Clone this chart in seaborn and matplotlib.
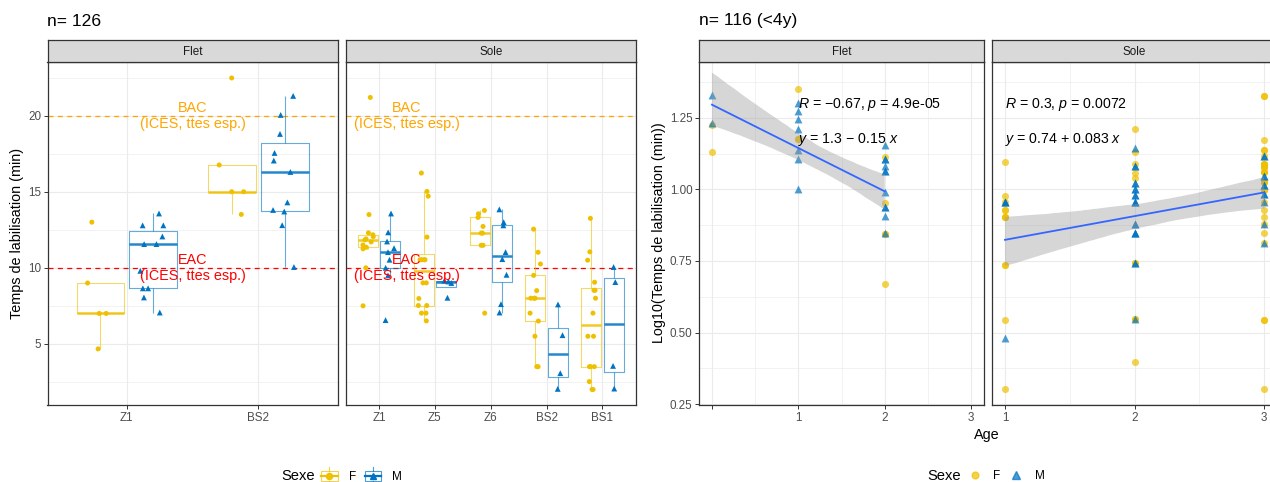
import numpy as np
import pandas as pd
import matplotlib
matplotlib.use("Agg")
import matplotlib.pyplot as plt
import seaborn as sns
from matplotlib.lines import Line2D
from matplotlib.patches import Rectangle
from matplotlib.legend_handler import HandlerBase
from matplotlib.ticker import FixedLocator, NullLocator

plt.rcParams["font.family"] = ["Liberation Sans", "DejaVu Sans"]
plt.rcParams["mathtext.fontset"] = "custom"
plt.rcParams["mathtext.rm"] = "Liberation Sans"
plt.rcParams["mathtext.it"] = "Liberation Sans:italic"

SEX_LEVELS = ["F", "M"]
SEX_COLORS = {"F": "#EFC000", "M": "#0073C2"}
SEX_MARKERS = {"F": "o", "M": "^"}

# ---------------- labilisation time (min) by species / site / sex ----------------
flet_sites = ["Z1", "BS2"]
sole_sites = ["Z1", "Z5", "Z6", "BS2", "BS1"]

flet_z1_f = [13.0, 9.0, 7.0, 7.0, 4.67]
flet_z1_m = [13.57, 12.79, 12.79, 12.06, 11.56, 11.56, 9.8, 8.65, 8.65, 8.05, 7.06]
flet_bs2_f = [22.48, 16.76, 15.0, 15.0, 13.51]
flet_bs2_m = [21.3, 20.05, 18.8, 17.55, 17.05, 16.3, 14.3, 13.8, 13.7, 12.8, 10.05]

sole_z1_f = [21.2, 13.5, 12.3, 12.17, 12.05, 11.9, 11.84, 11.7, 11.5, 11.35, 11.25, 10.0, 7.5]
sole_z1_m = [13.57, 12.33, 11.73, 11.29, 11.03, 10.53, 10.0, 9.5, 6.56]
sole_z5_f = [16.23, 15.02, 14.71, 12.02, 10.53, 10.53, 10.53, 10.53, 9.01, 9.01, 7.98,
             7.52, 7.52, 7.02, 7.02, 6.51]
sole_z5_m = [9.15, 9.1, 9.0, 8.03]
sole_z6_f = [13.77, 13.55, 13.31, 12.72, 12.28, 12.28, 11.48, 11.48, 7.02]
sole_z6_m = [13.84, 13.0, 12.79, 11.03, 10.57, 9.54, 7.61, 7.06]
sole_bs2_f = [12.54, 11.02, 10.25, 9.5, 8.5, 8.0, 8.0, 8.0, 7.02, 6.5, 5.5, 3.5, 3.5]
sole_bs2_m = [7.59, 5.57, 3.07, 2.04]
sole_bs1_f = [13.25, 11.05, 10.5, 9.05, 8.52, 8.52, 8.0, 7.02, 5.5, 5.5, 3.5, 3.5, 3.5, 2.52, 2.0, 2.0]
sole_bs1_m = [10.05, 9.06, 3.55, 2.06]

BAC_LEVEL = 20
EAC_LEVEL = 10
THRESHOLD_NOTE = "(ICES, ttes esp.)"

# ---------------- log10(labilisation time) by species / age / sex (age < 4) ----------------
flet_ages = [0, 1, 2]
flet_age0_f = [1.2243, 1.1307]
flet_age0_m = [1.3284, 1.2317]
flet_age1_f = [1.3518, 1.1761, 1.1761]
flet_age1_m = [1.3021, 1.2742, 1.2443, 1.2122, 1.1367, 1.1072, 1.0022]
flet_age2_f = [1.1139, 0.9542, 0.8451, 0.8451, 0.6693]
flet_age2_m = [1.1553, 1.1069, 1.1069, 1.0813, 1.0630, 1.0630, 0.9912, 0.9370, 0.9370, 0.9058, 0.8488]

sole_ages = [1, 2, 3]
sole_age1_f = [1.097, 0.977, 0.956, 0.929, 0.903, 0.737, 0.545, 0.302, 0.929, 0.903, 0.903, 0.737]
sole_age1_m = [0.956, 0.48, 0.956, 0.956]
sole_age2_f = [1.21, 1.13, 1.09, 1.057, 1.041, 0.744, 0.548, 0.397, 0.744, 0.548]
sole_age2_m = [1.145, 1.081, 1.023, 1.0, 0.979, 0.957, 0.879, 0.849, 0.744, 0.548,
               1.081, 1.023, 1.0, 0.979, 0.957, 0.957, 0.879, 0.849, 0.849, 0.744]
sole_age3_f = [1.327, 1.173, 1.136, 1.116, 1.09, 1.078, 1.06, 1.025, 0.999, 0.956, 0.929,
               0.903, 0.878, 0.848, 0.814, 0.545, 0.302,
               1.09, 1.09, 1.078, 1.078, 1.06, 1.06, 1.025, 1.025, 0.999, 1.327, 0.545, 1.136]
sole_age3_m = [1.116, 1.046, 1.014, 0.985, 0.956, 0.878, 0.814, 1.046, 1.014, 0.985, 1.116]

fit_labels = {
    "Flet": (r"$\it{R}$ = −0.67, $\it{p}$ = 4.9e-05", r"$\it{y}$ = 1.3 − 0.15 $\it{x}$"),
    "Sole": (r"$\it{R}$ = 0.3, $\it{p}$ = 0.0072", r"$\it{y}$ = 0.74 + 0.083 $\it{x}$"),
}

# ---------------- tidy tables ----------------
def rows_site(species, site, sex, values):
    return [dict(espece=species, site=site, sexe=sex, temps=v) for v in values]

left_rows = []
for site, f, m in [("Z1", flet_z1_f, flet_z1_m), ("BS2", flet_bs2_f, flet_bs2_m)]:
    left_rows += rows_site("Flet", site, "F", f) + rows_site("Flet", site, "M", m)
for site, f, m in [("Z1", sole_z1_f, sole_z1_m), ("Z5", sole_z5_f, sole_z5_m),
                   ("Z6", sole_z6_f, sole_z6_m), ("BS2", sole_bs2_f, sole_bs2_m),
                   ("BS1", sole_bs1_f, sole_bs1_m)]:
    left_rows += rows_site("Sole", site, "F", f) + rows_site("Sole", site, "M", m)
left_df = pd.DataFrame(left_rows)

def rows_age(species, age, sex, values):
    return [dict(espece=species, age=age, sexe=sex, logt=v) for v in values]

right_rows = []
for age, f, m in zip(flet_ages, [flet_age0_f, flet_age1_f, flet_age2_f],
                     [flet_age0_m, flet_age1_m, flet_age2_m]):
    right_rows += rows_age("Flet", age, "F", f) + rows_age("Flet", age, "M", m)
for age, f, m in zip(sole_ages, [sole_age1_f, sole_age2_f, sole_age3_f],
                     [sole_age1_m, sole_age2_m, sole_age3_m]):
    right_rows += rows_age("Sole", age, "F", f) + rows_age("Sole", age, "M", m)
right_df = pd.DataFrame(right_rows)

# ---------------- figure layout (pixel based) ----------------
W, H = 1270, 482
fig = plt.figure(figsize=(W / 100, H / 100), dpi=100)
fig.patch.set_facecolor("white")

def add_ax(x0, y0, x1, y1):
    return fig.add_axes([x0 / W, 1 - y1 / H, (x1 - x0) / W, (y1 - y0) / H])

PANEL_TOP, PANEL_BOT, STRIP_TOP = 62, 405, 40
panels = {
    "lf": (47.5, 337.5), "ls": (345.5, 636),
    "rf": (699, 984), "rs": (992, 1277),
}
ax_lf = add_ax(panels["lf"][0], PANEL_TOP, panels["lf"][1], PANEL_BOT)
ax_ls = add_ax(panels["ls"][0], PANEL_TOP, panels["ls"][1], PANEL_BOT)
ax_rf = add_ax(panels["rf"][0], PANEL_TOP, panels["rf"][1], PANEL_BOT)
ax_rs = add_ax(panels["rs"][0], PANEL_TOP, panels["rs"][1], PANEL_BOT)

EDGE = "#333333"
GRID = "#EBEBEB"

def style_panel(ax):
    ax.set_facecolor("white")
    for s in ax.spines.values():
        s.set_visible(True)
        s.set_color(EDGE)
        s.set_linewidth(0.9)
    ax.set_axisbelow(True)
    ax.tick_params(which="major", length=2.7, width=0.7, color=EDGE,
                   labelsize=8.4, labelcolor="#4D4D4D", pad=2)
    ax.tick_params(which="minor", length=0)
    ax.grid(which="major", color=GRID, lw=0.8)
    ax.grid(which="minor", color=GRID, lw=0.45)
    ax.set_xlabel("")
    ax.set_ylabel("")

def strip(key, label):
    x0, x1 = panels[key]
    s = add_ax(x0, STRIP_TOP, x1, PANEL_TOP)
    s.set_facecolor("#D9D9D9")
    s.set_xticks([])
    s.set_yticks([])
    for sp in s.spines.values():
        sp.set_color(EDGE)
        sp.set_linewidth(0.9)
    s.text(0.5, 0.45, label, ha="center", va="center", fontsize=8.4,
           color="#1A1A1A", transform=s.transAxes)

# ---------------- left chart: boxplots + jittered points ----------------
np.random.seed(11)
for ax, species, sites in [(ax_lf, "Flet", flet_sites), (ax_ls, "Sole", sole_sites)]:
    sub = left_df[left_df.espece == species]
    sns.boxplot(data=sub, x="site", y="temps", hue="sexe", order=sites,
                hue_order=SEX_LEVELS, palette=SEX_COLORS, fill=False, width=0.8,
                gap=0.1, whis=1.5, showfliers=False, showcaps=False, linewidth=0.8,
                legend=False, ax=ax)
    for c in ax.containers:
        if hasattr(c, "medians"):
            for art in list(c.boxes) + list(c.whiskers):
                art.set_alpha(0.6)
            for med in c.medians:
                med.set_linewidth(1.8)
                med.set_alpha(0.85)
    for sex, size in [("F", 3.6), ("M", 4.2)]:
        sns.stripplot(data=sub[sub.sexe == sex], x="site", y="temps", hue="sexe",
                      order=sites, hue_order=SEX_LEVELS, palette=SEX_COLORS,
                      dodge=True, jitter=0.2, marker=SEX_MARKERS[sex], size=size,
                      linewidth=0, legend=False, ax=ax)
    ax.axhline(BAC_LEVEL, color="#FFA500", lw=0.9, ls=(0, (4, 3.5)), zorder=1.5)
    ax.axhline(EAC_LEVEL, color="#FF0000", lw=0.9, ls=(0, (4, 3.5)), zorder=1.5)
    ax.text(0.5, BAC_LEVEL, "BAC\n" + THRESHOLD_NOTE, ha="center", va="center",
            color="#FFA500", fontsize=10.4, zorder=5)
    ax.text(0.5, EAC_LEVEL, "EAC\n" + THRESHOLD_NOTE, ha="center", va="center",
            color="#FF0000", fontsize=10.4, zorder=5)
    style_panel(ax)
    ax.set_xlim(-0.6, len(sites) - 0.4)
    ax.set_ylim(0.98, 23.53)
    ax.yaxis.set_major_locator(FixedLocator([5, 10, 15, 20]))
    ax.yaxis.set_minor_locator(FixedLocator([2.5, 7.5, 12.5, 17.5, 22.5]))
    ax.xaxis.set_minor_locator(NullLocator())
ax_ls.tick_params(axis="y", which="both", left=False, labelleft=False)
strip("lf", "Flet")
strip("ls", "Sole")

# ---------------- right chart: log10 time vs age with linear fit ----------------
for ax, species in [(ax_rf, "Flet"), (ax_rs, "Sole")]:
    sub = right_df[right_df.espece == species]
    for sex, s in [("F", 26), ("M", 32)]:
        sns.scatterplot(data=sub[sub.sexe == sex], x="age", y="logt", color=SEX_COLORS[sex],
                        marker=SEX_MARKERS[sex], s=s, alpha=0.7, linewidth=0,
                        legend=False, ax=ax)
    sns.regplot(data=sub, x="age", y="logt", scatter=False, ci=95, n_boot=2000, seed=5,
                color="#3366FF", line_kws={"lw": 1.3}, truncate=True, ax=ax)
    band = ax.collections[-1]
    band.set_alpha(0.4)
    band.set_facecolor((0.6, 0.6, 0.6))
    band.set_edgecolor("none")
    r_txt, eq_txt = fit_labels[species]
    ax.text(1, 1.297, r_txt, ha="left", va="center", fontsize=10.2, color="black", zorder=6)
    ax.text(1, 1.174, eq_txt, ha="left", va="center", fontsize=10.2, color="black", zorder=6)
    style_panel(ax)
    ax.set_ylim(0.247, 1.445)
    ax.yaxis.set_major_locator(FixedLocator([0.25, 0.5, 0.75, 1.0, 1.25]))
    ax.yaxis.set_minor_locator(FixedLocator([0.375, 0.625, 0.875, 1.125, 1.375]))

ax_rf.set_xlim(-0.15, 3.15)
ax_rf.xaxis.set_major_locator(FixedLocator([0, 1, 2, 3]))
ax_rf.set_xticklabels(["", "1", "2", "3"])
ax_rf.xaxis.set_minor_locator(FixedLocator([0.5, 1.5, 2.5]))
ax_rf.set_yticklabels(["0.25", "0.50", "0.75", "1.00", "1.25"])
ax_rs.set_xlim(0.9, 3.1)
ax_rs.xaxis.set_major_locator(FixedLocator([1, 2, 3]))
ax_rs.set_xticklabels(["1", "2", "3"])
ax_rs.xaxis.set_minor_locator(FixedLocator([1.5, 2.5]))
ax_rs.tick_params(axis="y", which="both", left=False, labelleft=False)
strip("rf", "Flet")
strip("rs", "Sole")

# ---------------- titles and axis titles ----------------
fig.text(47 / W, 1 - 21 / H, "n= 126", ha="left", va="center", fontsize=12.6)
fig.text(699 / W, 1 - 21 / H, "n= 116 (<4y)", ha="left", va="center", fontsize=12.6)
fig.text(17 / W, 1 - 233 / H, "Temps de labilisation (min)", rotation=90,
         ha="center", va="center", fontsize=10.4)
fig.text(659 / W, 1 - 233 / H, "Log10(Temps de labilisation (min))", rotation=90,
         ha="center", va="center", fontsize=10.4)
fig.text(987 / W, 1 - 435 / H, "Age", ha="center", va="center", fontsize=10.4)

# ---------------- legends ----------------
class BoxKey(HandlerBase):
    def create_artists(self, legend, orig_handle, xdescent, ydescent, width, height,
                       fontsize, trans):
        color = orig_handle.get_color()
        marker = orig_handle.get_marker()
        x0, y0 = -xdescent, -ydescent
        cx, cy = x0 + width / 2, y0 + height / 2
        bw, bh = width * 0.8, height * 0.55
        box = Rectangle((cx - bw / 2, cy - bh / 2), bw, bh, facecolor="white",
                        edgecolor=color, lw=0.8, alpha=0.7, transform=trans)
        w_lo = Line2D([cx, cx], [y0, cy - bh / 2], color=color, lw=0.8,
                      alpha=0.7, transform=trans)
        w_hi = Line2D([cx, cx], [cy + bh / 2, y0 + height], color=color, lw=0.8,
                      alpha=0.7, transform=trans)
        med = Line2D([cx - bw / 2, cx + bw / 2], [cy, cy], color=color, lw=1.6,
                     transform=trans)
        pt = Line2D([cx], [cy], marker=marker, color=color, ms=4.4, ls="none",
                    transform=trans)
        return [box, w_lo, w_hi, med, pt]

fig.text(281 / W, 1 - 476 / H, "Sexe", ha="left", va="center", fontsize=10.6)
box_handles = [Line2D([], [], color=SEX_COLORS[s], marker=SEX_MARKERS[s]) for s in SEX_LEVELS]
fig.legend(box_handles, SEX_LEVELS, loc="center left",
           bbox_to_anchor=(319 / W, 1 - 476 / H), ncol=2, frameon=False,
           handler_map={Line2D: BoxKey()}, handlelength=1.75, handleheight=1.9,
           handletextpad=0.75, columnspacing=0.6, fontsize=8.5, borderpad=0,
           borderaxespad=0)

fig.text(927 / W, 1 - 476 / H, "Sexe", ha="left", va="center", fontsize=10.6)
pt_handles = [Line2D([], [], ls="none", marker=SEX_MARKERS[s], color=SEX_COLORS[s],
                     alpha=0.7, ms=5.4 if s == "M" else 4.9) for s in SEX_LEVELS]
fig.legend(pt_handles, SEX_LEVELS, loc="center left",
           bbox_to_anchor=(966 / W, 1 - 476 / H), ncol=2, frameon=False,
           handlelength=1.5, handletextpad=0.8, columnspacing=0.6, fontsize=8.5,
           borderpad=0, borderaxespad=0)

fig.savefig("out.png", dpi=100, facecolor="white")
